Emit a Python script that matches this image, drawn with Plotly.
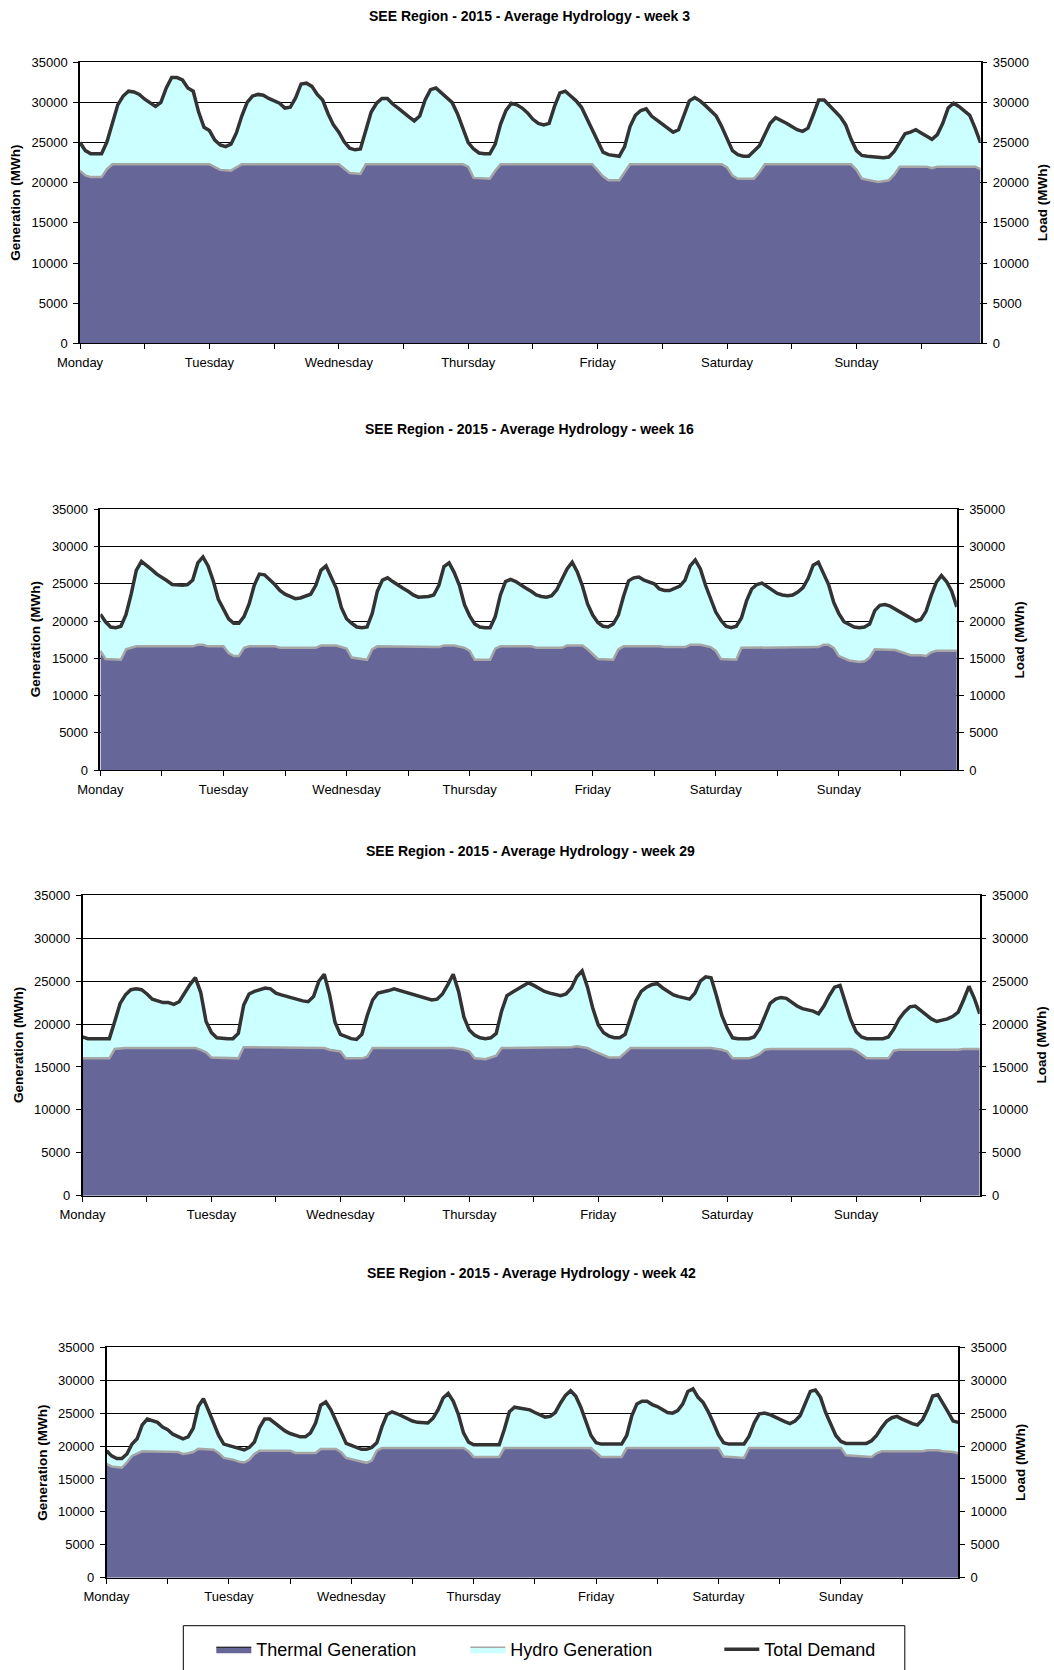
import plotly.graph_objects as go

FONT = "Liberation Sans, Arial, Helvetica, sans-serif"

# ---------------- data ----------------
HOURS = list(range(168))                      # hour of the week, Monday 00h = 0
DAY_LABELS = ["Monday", "Tuesday", "Wednesday", "Thursday", "Friday", "Saturday", "Sunday"]
TICK_HOURS = list(range(0, 168, 12))
Y_TICKS = list(range(0, 35001, 5000))
WEEKS = [3, 16, 29, 42]
TITLE_FMT = "SEE Region - 2015 - Average Hydrology - week {}"
SERIES_NAMES = ["Thermal Generation", "Hydro Generation", "Total Demand"]

# Total demand (MWh), hourly
W3_DEMAND = [
    25000, 24000, 23600, 23600, 23600, 25100, 27600, 29700, 30800, 31400, 31300, 31000,
    30400, 29900, 29500, 30000, 31800, 33100, 33100, 32800, 31800, 31400, 28800, 26900,
    26500, 25300, 24700, 24500, 24800, 26200, 28300, 30000, 30800, 31000, 30900, 30500,
    30200, 29900, 29300, 29400, 30600, 32300, 32400, 32000, 31000, 30300, 28600, 27200,
    26300, 25100, 24300, 24100, 24200, 26500, 28800, 29900, 30500, 30500, 29800, 29300,
    28700, 28200, 27700, 28300, 30300, 31600, 31800, 31200, 30500, 30000, 28600, 26800,
    25000, 24200, 23700, 23600, 23600, 24800, 27300, 29000, 29900, 29700, 29300, 28700,
    27900, 27400, 27200, 27400, 29500, 31200, 31400, 30800, 30200, 29400, 28000, 26500,
    25000, 23800, 23500, 23400, 23300, 24500, 27000, 28400, 29000, 29200, 28300, 27800,
    27300, 26700, 26300, 26600, 28500, 30200, 30600, 30200, 29600, 29000, 28300, 27000,
    25600, 24000, 23500, 23300, 23300, 23900, 24600, 26000, 27400, 28100, 27800, 27400,
    27000, 26600, 26400, 26800, 28500, 30300, 30300, 29600, 28900, 28200, 27200, 25400,
    24000, 23400, 23300, 23200, 23100, 23100, 23200, 23900, 25000, 26100, 26300, 26600,
    26200, 25800, 25400, 26000, 27400, 29300, 29900, 29500, 29000, 28400, 26800, 25000,
]
W16_DEMAND = [
    20900, 19900, 19200, 19100, 19300, 20900, 23600, 26800, 28000, 27500, 26900, 26300,
    25900, 25400, 24900, 24800, 24800, 24900, 25500, 27800, 28600, 27400, 25400, 22900,
    21500, 20300, 19700, 19700, 20600, 22300, 24800, 26300, 26200, 25600, 24900, 24100,
    23600, 23300, 23000, 23100, 23300, 23600, 24800, 26800, 27400, 26000, 24400, 21800,
    20300, 19700, 19200, 19100, 19200, 21000, 24000, 25500, 25800, 25300, 24800, 24400,
    24000, 23500, 23200, 23200, 23300, 23500, 24800, 27300, 27800, 26500, 24800, 22200,
    20700, 19600, 19200, 19100, 19100, 20600, 23500, 25300, 25600, 25300, 24800, 24400,
    24000, 23500, 23300, 23200, 23400, 24200, 25600, 27000, 27900, 26600, 24700, 22300,
    20800, 19800, 19300, 19200, 19600, 20800, 23300, 25400, 25800, 25900, 25500, 25300,
    25000, 24300, 24100, 24100, 24400, 24700, 25500, 27400, 28200, 27000, 24800, 23100,
    21200, 20100, 19300, 19100, 19300, 20400, 22700, 24300, 24900, 25100, 24600, 24100,
    23700, 23500, 23400, 23500, 23900, 24500, 25700, 27500, 27900, 26400, 24900, 22500,
    21000, 19900, 19500, 19200, 19100, 19200, 19600, 21400, 22100, 22200, 22000, 21600,
    21200, 20700, 20300, 20000, 20200, 21300, 23400, 25200, 26100, 25300, 24000, 21900,
]
W29_DEMAND = [
    18500, 18300, 18300, 18300, 18300, 18300, 20300, 22400, 23400, 24000, 24100, 24000,
    23500, 22900, 22700, 22500, 22500, 22300, 22600, 23600, 24600, 25400, 23700, 20300,
    19000, 18400, 18300, 18300, 18300, 18900, 22200, 23500, 23800, 24000, 24200, 24100,
    23600, 23400, 23200, 23100, 22900, 22700, 22600, 23200, 25000, 25800, 23400, 20200,
    18800, 18500, 18300, 18200, 18800, 21000, 22800, 23600, 23700, 23900, 24100, 23900,
    23700, 23500, 23400, 23200, 23000, 22800, 22900, 23500, 24600, 25800, 23800, 20800,
    19300, 18700, 18400, 18300, 18400, 18900, 21500, 23300, 23700, 24100, 24500, 24800,
    24500, 24100, 23800, 23600, 23400, 23300, 23500, 24200, 25500, 26200, 24300, 21800,
    19900, 19000, 18600, 18400, 18400, 18800, 20700, 22700, 23800, 24300, 24600, 24700,
    24200, 23800, 23400, 23200, 23000, 22900, 23600, 25000, 25500, 25400, 23300, 21000,
    19500, 18400, 18300, 18300, 18300, 18500, 19400, 20900, 22400, 22900, 23100, 23000,
    22500, 22100, 21800, 21700, 21500, 21200, 22100, 23300, 24300, 24500, 22600, 20500,
    19100, 18500, 18300, 18300, 18300, 18300, 18500, 19400, 20600, 21400, 22000, 22100,
    21600, 21100, 20600, 20300, 20400, 20600, 20900, 21400, 22800, 24400, 23000, 21200,
]
W42_DEMAND = [
    19300, 18500, 18100, 18100, 18800, 20300, 21100, 23200, 24100, 23900, 23600, 22900,
    22500, 21800, 21400, 21100, 21400, 22700, 26000, 27200, 25400, 23500, 21600, 20300,
    20100, 19900, 19600, 19400, 19800, 20600, 22800, 24100, 24100, 23500, 22800, 22300,
    21900, 21600, 21400, 21400, 22000, 23500, 26200, 26700, 25500, 23800, 22000, 20400,
    20100, 19800, 19500, 19500, 19800, 20500, 22900, 24800, 25200, 24900, 24500, 24200,
    23800, 23600, 23500, 23500, 24200, 25500, 27300, 28000, 26800, 24800, 22000, 20600,
    20200, 20200, 20200, 20200, 20200, 20200, 22500, 25200, 25900, 25800, 25600, 25500,
    25100, 24700, 24400, 24500, 25100, 26500, 27700, 28400, 27600, 25900, 23800, 21600,
    20500, 20300, 20300, 20300, 20300, 20300, 21600, 24600, 26400, 26800, 26800, 26300,
    26000, 25600, 25100, 25000, 25400, 26400, 28300, 28700, 27400, 26600, 25200, 23500,
    21700, 20500, 20300, 20300, 20300, 20300, 21500, 23500, 24900, 25000, 24800, 24400,
    24000, 23700, 23400, 23800, 24600, 26600, 28300, 28500, 27400, 25100, 23400, 21600,
    20700, 20400, 20400, 20400, 20400, 20400, 20800, 21600, 22800, 23800, 24300, 24500,
    24100, 23700, 23400, 23200, 24000, 25600, 27600, 27800, 26600, 25200, 23800, 23600,
]

# Thermal generation (MWh) at the hours where its level changes
W3_THERMAL_H = [0, 1, 2, 4, 5, 6, 24, 25, 26, 28, 29, 30, 48, 49, 50, 52, 53, 71, 72, 73, 76, 77, 78,
                95, 96, 97, 98, 100, 101, 102, 119, 120, 121, 122, 125, 126, 127, 143, 144, 145, 148,
                150, 151, 152, 157, 158, 159, 166, 167]
W3_THERMAL = [21500, 20900, 20700, 20700, 21700, 22300, 22300, 22000, 21600, 21500, 21900, 22300,
              22300, 21800, 21200, 21100, 22300, 22300, 22000, 20600, 20500, 21500, 22300,
              22300, 21600, 20800, 20300, 20300, 21300, 22300, 22300, 21900, 20900, 20500, 20500,
              21300, 22300, 22300, 21600, 20500, 20100, 20300, 21000, 22000, 22000, 21800, 22000,
              22000, 21700]
W16_THERMAL_H = [0, 1, 4, 5, 7, 18, 19, 20, 21, 24, 25, 26, 27, 28, 29, 34, 35, 42, 43, 46, 48, 49, 52,
                 53, 54, 60, 61, 66, 67, 69, 71, 72, 73, 76, 77, 78, 84, 85, 90, 91, 94, 95, 97, 100,
                 101, 102, 109, 110, 114, 115, 117, 119, 120, 121, 124, 125, 140, 141, 142, 143, 144,
                 146, 148, 149, 150, 151, 155, 157, 158, 160, 161, 162, 163, 167]
W16_THERMAL = [16000, 14900, 14800, 16200, 16600, 16600, 16800, 16800, 16600, 16600, 15700, 15300,
               15300, 16400, 16600, 16600, 16400, 16400, 16700, 16700, 16300, 15100, 14800, 16200,
               16600, 16600, 16500, 16500, 16700, 16700, 16400, 16000, 14800, 14800, 16300, 16600,
               16600, 16400, 16400, 16700, 16700, 16200, 14900, 14800, 16200, 16600, 16600, 16500,
               16500, 16800, 16800, 16500, 16000, 14900, 14800, 16400, 16500, 16800, 16800, 16400,
               15300, 14700, 14500, 14600, 15100, 16200, 16100, 15600, 15400, 15400, 15300, 15800,
               16000, 16000]
W29_THERMAL_H = [0, 5, 6, 8, 21, 22, 23, 24, 29, 30, 45, 46, 48, 49, 52, 53, 54, 69, 71, 72, 73, 75, 76,
                 77, 78, 91, 92, 94, 95, 97, 98, 100, 101, 102, 117, 119, 120, 121, 124, 125, 126, 127,
                 128, 143, 144, 145, 146, 150, 151, 152, 163, 164, 167]
W29_THERMAL = [16000, 16000, 17100, 17200, 17200, 17000, 16700, 16100, 16000, 17300, 17200, 17000,
               16800, 16000, 16000, 16200, 17200, 17200, 17000, 16800, 16000, 15900, 16100, 16300,
               17200, 17300, 17400, 17200, 16900, 16400, 16100, 16100, 16600, 17200, 17200, 17000,
               16800, 16000, 16000, 16200, 16500, 17000, 17100, 17100, 16900, 16400, 16000, 16000,
               16900, 17000, 17000, 17100, 17100]
W42_THERMAL_H = [0, 1, 3, 4, 5, 6, 7, 14, 15, 16, 17, 18, 21, 22, 23, 25, 26, 27, 28, 29, 30, 36, 37,
                 41, 42, 45, 46, 47, 49, 50, 51, 52, 53, 54, 70, 71, 72, 77, 78, 95, 96, 97, 101, 102,
                 120, 121, 125, 126, 144, 145, 150, 151, 152, 160, 161, 163, 164, 166, 167]
W42_THERMAL = [17300, 16900, 16700, 17500, 18500, 18900, 19200, 19100, 18800, 18900, 19100, 19600,
               19450, 18950, 18200, 17900, 17600, 17500, 17900, 18800, 19300, 19300, 18950, 18950,
               19550, 19550, 19050, 18200, 17850, 17600, 17450, 17800, 19300, 19700, 19700, 19200,
               18350, 18350, 19700, 19700, 19000, 18350, 18350, 19700, 19700, 18400, 18200, 19700,
               19700, 18600, 18350, 18900, 19200, 19200, 19350, 19350, 19200, 19100, 18900]

DEMANDS = [W3_DEMAND, W16_DEMAND, W29_DEMAND, W42_DEMAND]
THERMAL_HOURS = [W3_THERMAL_H, W16_THERMAL_H, W29_THERMAL_H, W42_THERMAL_H]
THERMALS = [W3_THERMAL, W16_THERMAL, W29_THERMAL, W42_THERMAL]

for d in DEMANDS:
    assert len(d) == len(HOURS)
for h, t in zip(THERMAL_HOURS, THERMALS):
    assert len(h) == len(t)

# ---------------- style / layout ----------------
C_THERMAL = "#666699"
C_HYDRO = "#CCFFFF"
C_HYDRO_EDGE = "#A6A6A6"
C_DEMAND = "#333333"
W, H = 1054, 1670

# plot areas in pixels: left, right, top, bottom + text positions
PANELS = [
    dict(l=80, r=980.5, t=62.3, b=343.3, tx=529.8, ty=16, gx=15.9, lx=1042.5),
    dict(l=100.4, r=956.8, t=509.3, b=770, tx=529, ty=429.3, gx=35.5, lx=1019.8),
    dict(l=82.5, r=979.7, t=895.3, b=1195.7, tx=530.2, ty=850.7, gx=18.6, lx=1041),
    dict(l=106.5, r=958.2, t=1347.3, b=1577.7, tx=531.4, ty=1273.3, gx=42.3, lx=1020.5),
]
LEGEND_BOX = dict(l=183.3, r=904.8, t=1625.7, b=1690)

def fx(px):
    return px / W

def fy(py):
    return 1 - py / H

fig = go.Figure()
annotations = []
tick_text = [DAY_LABELS[h // 24] if h % 24 == 0 else "" for h in TICK_HOURS]

for i, (week, dem, th_h, th, p) in enumerate(zip(WEEKS, DEMANDS, THERMAL_HOURS, THERMALS, PANELS)):
    n = i + 1
    xa, ya, yr = f"x{n}", f"y{n}", f"y{n + 4}"
    fig.add_trace(go.Scatter(
        x=th_h, y=th, xaxis=xa, yaxis=ya, mode="lines", fill="tozeroy",
        fillcolor=C_THERMAL, line=dict(color=C_HYDRO_EDGE, width=2.5),
        name=SERIES_NAMES[0], showlegend=False, hoverinfo="skip"))
    fig.add_trace(go.Scatter(
        x=HOURS, y=dem, xaxis=xa, yaxis=ya, mode="lines", fill="tonexty",
        fillcolor=C_HYDRO, line=dict(color=C_HYDRO, width=0),
        name=SERIES_NAMES[1], showlegend=False, hoverinfo="skip"))
    fig.add_trace(go.Scatter(
        x=HOURS, y=dem, xaxis=xa, yaxis=yr, mode="lines",
        line=dict(color=C_DEMAND, width=3.5),
        name=SERIES_NAMES[2], showlegend=False))

    xdom = [fx(p["l"]), fx(p["r"])]
    ydom = [fy(p["b"]), fy(p["t"])]
    fig.update_layout(**{
        f"xaxis{n}": dict(
            domain=xdom, anchor=ya, range=[0, 167], tickmode="array",
            tickvals=TICK_HOURS, ticktext=tick_text, ticks="outside", ticklen=5,
            tickcolor="black", showline=True, linecolor="black", linewidth=1,
            mirror=True, showgrid=False, zeroline=False, automargin=False,
            tickfont=dict(size=13, color="black", family=FONT), ticklabelstandoff=2),
        f"yaxis{n}": dict(
            domain=ydom, anchor=xa, range=[0, 35000], tickmode="array", tickvals=Y_TICKS,
            tickformat="d", ticks="outside", ticklen=5, tickcolor="black",
            showline=True, linecolor="black", linewidth=1.5, showgrid=True,
            gridcolor="black", gridwidth=1, zeroline=False, automargin=False,
            tickfont=dict(size=13, color="black", family=FONT), ticklabelstandoff=3),
        f"yaxis{n + 4}": dict(
            domain=ydom, anchor=xa, overlaying=ya, side="right", range=[0, 35000],
            tickmode="array", tickvals=Y_TICKS, tickformat="d", ticks="outside", ticklen=5,
            tickcolor="black", showline=True, linecolor="black", linewidth=1.5,
            showgrid=False, zeroline=False, automargin=False,
            tickfont=dict(size=13, color="black", family=FONT), ticklabelstandoff=3),
    })
    annotations.append(dict(
        text=f"<b>{TITLE_FMT.format(week)}</b>", x=fx(p["tx"]), y=fy(p["ty"]),
        xref="paper", yref="paper", xanchor="center", yanchor="middle", showarrow=False,
        font=dict(size=14, color="black", family=FONT)))
    yc = fy((p["t"] + p["b"]) / 2)
    annotations.append(dict(
        text="<b>Generation (MWh)</b>", x=fx(p["gx"]), y=yc, xref="paper", yref="paper",
        xanchor="center", yanchor="middle", textangle=-90, showarrow=False,
        font=dict(size=13.5, color="black", family=FONT)))
    annotations.append(dict(
        text="<b>Load (MWh)</b>", x=fx(p["lx"]), y=yc, xref="paper", yref="paper",
        xanchor="center", yanchor="middle", textangle=-90, showarrow=False,
        font=dict(size=13.5, color="black", family=FONT)))

# legend-only entries
fig.add_trace(go.Scatter(x=[None], y=[None], xaxis="x1", yaxis="y1", mode="lines", fill="toself",
                         fillcolor=C_THERMAL, line=dict(color="black", width=1),
                         name=SERIES_NAMES[0], showlegend=True))
fig.add_trace(go.Scatter(x=[None], y=[None], xaxis="x1", yaxis="y1", mode="lines", fill="toself",
                         fillcolor=C_HYDRO, line=dict(color=C_HYDRO_EDGE, width=1.5),
                         name=SERIES_NAMES[1], showlegend=True))
fig.add_trace(go.Scatter(x=[None], y=[None], xaxis="x1", yaxis="y5", mode="lines",
                         line=dict(color=C_DEMAND, width=3.5),
                         name=SERIES_NAMES[2], showlegend=True))

# legend frame (runs off the bottom edge as in the source)
shapes = [dict(type="rect", xref="paper", yref="paper",
               x0=fx(LEGEND_BOX["l"]), x1=fx(LEGEND_BOX["r"]),
               y0=fy(LEGEND_BOX["b"]), y1=fy(LEGEND_BOX["t"]),
               line=dict(color="black", width=1), fillcolor="rgba(0,0,0,0)", layer="above")]

fig.update_layout(
    width=W, height=H, margin=dict(l=0, r=0, t=0, b=0, autoexpand=False),
    paper_bgcolor="white", plot_bgcolor="white",
    font=dict(family=FONT, color="black", size=13),
    annotations=annotations, shapes=shapes,
    showlegend=True,
    legend=dict(orientation="h", x=fx(LEGEND_BOX["l"] + 1), y=fy(1631), xanchor="left",
                yanchor="top", borderwidth=0, bgcolor="rgba(0,0,0,0)",
                font=dict(size=18, color="black", family=FONT),
                entrywidth=177, entrywidthmode="pixels", indentation=27, itemwidth=35,
                traceorder="normal"),
    hovermode=False,
)

# place the figure flush with the page corner, without scrollbars
PAGE_CSS = ("document.body.style.margin='0';"
            "document.body.style.overflow='hidden';"
            "document.documentElement.style.overflow='hidden';")

fig.write_html("out.html", config={"displayModeBar": False}, post_script=PAGE_CSS)
